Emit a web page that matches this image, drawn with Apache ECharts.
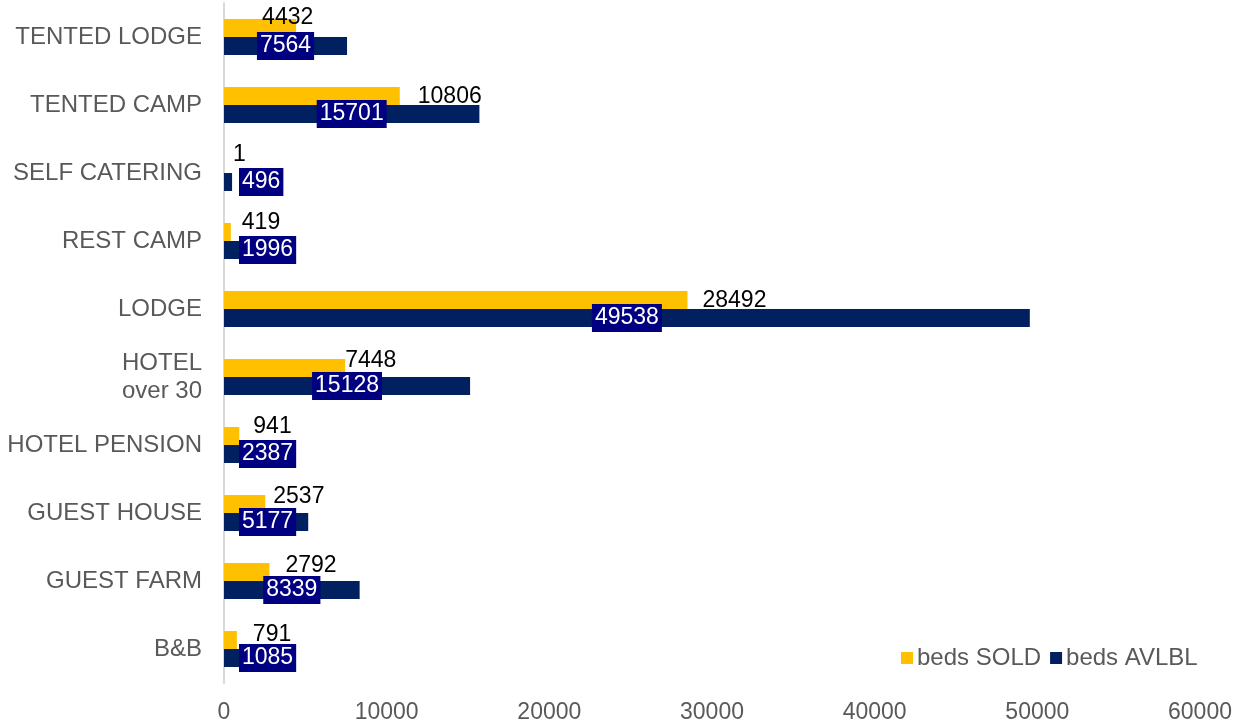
<!DOCTYPE html>
<html>
<head>
<meta charset="utf-8">
<script src="https://cdn.jsdelivr.net/npm/echarts@6/dist/echarts.min.js"></script>
<style>
html,body{margin:0;padding:0;background:#fff;}
#chart{width:1245px;height:725px;}
</style>
</head>
<body>
<div id="chart"></div>
<script>
// bottom-to-top order
const categories = ['B&B', 'GUEST FARM', 'GUEST HOUSE', 'HOTEL PENSION', 'HOTEL\nover 30', 'LODGE', 'REST CAMP', 'SELF CATERING', 'TENTED CAMP', 'TENTED LODGE'];
const bedsSold = [791, 2792, 2537, 941, 7448, 28492, 419, 1, 10806, 4432];
const bedsAvlbl = [1085, 8339, 5177, 2387, 15128, 49538, 1996, 496, 15701, 7564];
const xTicks = [0, 10000, 20000, 30000, 40000, 50000, 60000];

// label nudges (pixel offsets) for the SOLD value labels, as placed in the original
const soldLabelNudge = [[16, -5], [16, -6], [8, -7], [14, -9], [0, -7], [15, 1], [11, -9], [9, -9], [18, 1], [-34, -10]];

const FONT = '"Liberation Sans", Arial, sans-serif';

const soldData = bedsSold.map((v, i) => ({
  value: v,
  label: { offset: soldLabelNudge[i] }
}));
const avlblData = bedsAvlbl.map((v) => ({
  value: v,
  label: { position: v < 6000 ? 'insideLeft' : 'inside' }
}));

const chart = echarts.init(document.getElementById('chart'), null, { renderer: 'canvas' });
chart.setOption({
  animation: false,
  backgroundColor: '#ffffff',
  textStyle: { fontFamily: FONT },
  grid: { left: 224, right: 45, top: 3, bottom: 42, containLabel: false },
  legend: {
    data: ['beds SOLD', 'beds AVLBL'],
    left: 901,
    top: 646,
    padding: 0,
    itemGap: 9,
    itemWidth: 12,
    itemHeight: 12,
    icon: 'rect',
    textStyle: { color: '#595959', fontSize: 24, fontFamily: FONT, lineHeight: 24, padding: [0, 0, 0, -1] }
  },
  xAxis: {
    type: 'value',
    min: 0,
    max: 60000,
    interval: 10000,
    axisLine: { show: false },
    axisTick: { show: false },
    splitLine: { show: false },
    axisLabel: {
      color: '#595959',
      fontSize: 23,
      fontFamily: FONT,
      margin: 18,
      formatter: (v) => xTicks.includes(v) ? String(v) : ''
    }
  },
  yAxis: {
    type: 'category',
    data: categories,
    axisLine: { show: true, lineStyle: { color: '#d9d9d9', width: 2 } },
    axisTick: { show: false },
    splitLine: { show: false },
    axisLabel: {
      color: '#595959',
      fontSize: 24,
      fontFamily: FONT,
      margin: 22,
      lineHeight: 28,
      align: 'right'
    }
  },
  series: [
    {
      name: 'beds SOLD',
      type: 'bar',
      data: soldData,
      barWidth: 18,
      barGap: '0%',
      itemStyle: { color: '#FFC000' },
      label: {
        show: true,
        position: 'right',
        distance: 0,
        color: '#000000',
        fontSize: 23,
        fontFamily: FONT
      }
    },
    {
      name: 'beds AVLBL',
      type: 'bar',
      data: avlblData,
      barWidth: 18,
      barGap: '0%',
      itemStyle: { color: '#002060' },
      label: {
        show: true,
        distance: 15,
        color: '#ffffff',
        fontSize: 23,
        fontFamily: FONT,
        backgroundColor: '#000080',
        padding: [2, 3, 2, 3],
        lineHeight: 24
      }
    }
  ]
});
</script>
</body>
</html>
